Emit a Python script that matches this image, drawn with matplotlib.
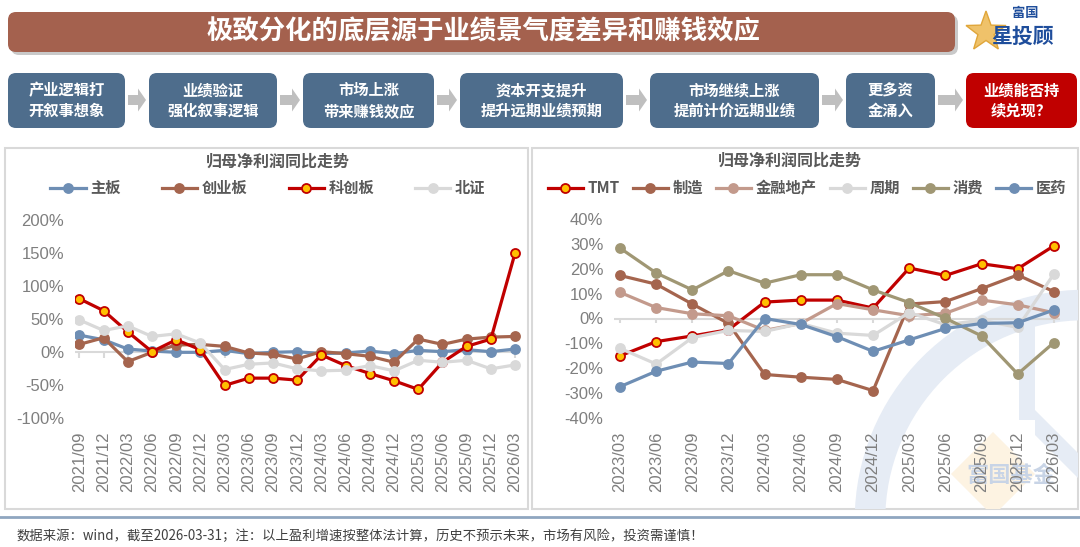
import matplotlib
matplotlib.use("Agg")
import matplotlib.pyplot as plt
import numpy as np
from matplotlib.patches import FancyBboxPatch, Rectangle, Polygon, Arc, FancyArrow
from matplotlib.lines import Line2D

plt.rcParams["font.family"] = ["Noto Sans CJK SC", "DejaVu Sans"]

# ── Texts ─────────────────────────────────────────────────────────────────────
TITLE = "极致分化的底层源于业绩景气度差异和赚钱效应"
CHART_TITLE = "归母净利润同比走势"
FOOTNOTE = ("数据来源：wind，截至2026-03-31；注：以上盈利增速按整体法计算，"
            "历史不预示未来，市场有风险，投资需谨慎！")
FLOW_STEPS = ["产业逻辑打\n开叙事想象", "业绩验证\n强化叙事逻辑", "市场上涨\n带来赚钱效应",
              "资本开支提升\n提升远期业绩预期", "市场继续上涨\n提前计价远期业绩",
              "更多资\n金涌入", "业绩能否持\n续兑现？"]

# ── Left chart: by board (%) ──────────────────────────────────────────────────
BOARD_DATES = ["2021/09", "2021/12", "2022/03", "2022/06", "2022/09", "2022/12",
               "2023/03", "2023/06", "2023/09", "2023/12", "2024/03", "2024/06",
               "2024/09", "2024/12", "2025/03", "2025/06", "2025/09", "2025/12", "2026/03"]
BOARD_NAMES = ["主板", "创业板", "科创板", "北证"]
MAIN_BOARD = [26, 19, 5, 2, 0, 0, 3, -2, 0, 1, -2, -1, 2, -2, 3, 1, 4, 1, 5]
CHINEXT    = [12, 22, -14, 0, 11, 12, 9, -1, -3, -10, 1, -2, -6, -15, 20, 12, 20, 23, 24]
STAR       = [81, 63, 31, 1, 19, 4, -50, -39, -39, -42, -4, -20, -32, -43, -56, -15, 9, 20, 150]
BSE        = [49, 33, 40, 24, 28, 14, -26, -18, -16, -25, -28, -27, -20, -28, -12, -15, -12, -25, -19]

# ── Right chart: by sector (%) ────────────────────────────────────────────────
SECTOR_DATES = ["2023/03", "2023/06", "2023/09", "2023/12", "2024/03", "2024/06",
                "2024/09", "2024/12", "2025/03", "2025/06", "2025/09", "2025/12", "2026/03"]
SECTOR_NAMES = ["TMT", "制造", "金融地产", "周期", "消费", "医药"]
TMT     = [-15, -9.3, -7, -4.5, 6.6, 7.4, 7.4, 4.2, 20.3, 17.3, 22, 20, 29.2]
MANUF   = [17.3, 13.8, 5.8, -2, -22.5, -23.6, -24.5, -29, 5.8, 6.8, 12, 17.5, 10.8]
FIN_RE  = [10.5, 4.4, 1.9, 1.1, -4.8, -2, 6, 3.5, 1.1, 2.1, 7.4, 5.5, 2.3]
CYCLE   = [-12, -18.3, -7.7, -4.8, -5.2, -2, -5.9, -6.8, 2.4, -2.5, -0.7, -3.6, 17.9]
CONSUME = [28.3, 18.3, 11.5, 19.2, 14.2, 17.6, 17.6, 11.5, 6.4, 0.1, -7, -22.3, -9.7]
PHARMA  = [-27.4, -21.2, -17.5, -18.1, 0, -2.4, -7.3, -13.2, -8.6, -4, -2, -1.7, 3.4]

# ── Colours ───────────────────────────────────────────────────────────────────
BLUE, BROWN, RED, GOLD = "#6E8EB4", "#A5654E", "#C00000", "#FFC000"
GREY, PINK, OLIVE = "#D9D9D9", "#C39A8C", "#A09774"
BOX, BANNER, TXT = "#4E6D8C", "#A4614E", "#595959"

W, H = 1080, 547


def fx(x):
    return x / W


def fy(y):
    return 1 - y / H


fig = plt.figure(figsize=(W / 100, H / 100), dpi=100)
fig.patch.set_facecolor("white")

# background canvas in pixel coords
bg = fig.add_axes([0, 0, 1, 1], zorder=0)
bg.set_xlim(0, W)
bg.set_ylim(H, 0)
bg.axis("off")

# title banner
bg.add_patch(FancyBboxPatch((11, 15), 947, 40, boxstyle="round,pad=0,rounding_size=8",
                            fc="#C9C9C9", ec="none"))
bg.add_patch(FancyBboxPatch((8, 12), 947, 40, boxstyle="round,pad=0,rounding_size=8",
                            fc=BANNER, ec="none"))
bg.text(483, 32, TITLE, color="white", fontsize=19, fontweight="bold",
        ha="center", va="center")

# logo
ang = np.linspace(np.pi / 2, np.pi / 2 + 2 * np.pi, 11)[:-1]
rad = np.where(np.arange(10) % 2 == 0, 21, 8.5)
bg.add_patch(Polygon(np.c_[986 + rad * np.cos(ang), 32 - rad * np.sin(ang)],
                     fc="#EFC26A", ec="#E0A63A", lw=1))
bg.text(1025, 13, "富国", color="#1F4E9C", fontsize=9.5, fontweight="bold",
        ha="center", va="center")
bg.text(1023, 36, "星投顾", color="#1F4E9C", fontsize=15, fontweight="bold",
        ha="center", va="center")

# flow boxes
flow_x = [(8, 125), (149, 277), (303, 434), (460, 623), (650, 819), (846, 935), (966, 1077)]
for i, (step, (x0, x1)) in enumerate(zip(FLOW_STEPS, flow_x)):
    fc = RED if i == len(FLOW_STEPS) - 1 else BOX
    bg.add_patch(FancyBboxPatch((x0, 73), x1 - x0, 55, boxstyle="round,pad=0,rounding_size=8",
                                fc=fc, ec="none"))
    bg.text((x0 + x1) / 2, 100.5, step, color="white", fontsize=11, fontweight="bold",
            ha="center", va="center", linespacing=1.35)
    if i > 0:
        g0, g1 = flow_x[i - 1][1] + 3, x0 - 3
        bg.add_patch(FancyArrow(g0, 100, g1 - g0, 0, width=10, head_width=23,
                                head_length=8, length_includes_head=True,
                                fc="#BFBFBF", ec="none"))

# panels
left_panel = Rectangle((5, 148), 523, 361, fc="white", ec="#D9D9D9", lw=1.5)
right_panel = Rectangle((532, 148), 546, 361, fc="white", ec="#D9D9D9", lw=1.5)
bg.add_patch(left_panel)
bg.add_patch(right_panel)

# watermark in right panel
wm = "#E6ECF5"
wm_items = [
    Polygon([(993, 432), (1035, 474), (993, 516), (951, 474)], fc="#FDF3E2", ec="none"),
    Arc((1085, 520), 430, 430, theta1=90, theta2=270, color=wm, lw=22),
    Rectangle((1019, 300), 16, 120, fc=wm, ec="none"),
    Polygon([(1035, 410), (1080, 455), (1080, 480), (1035, 435)], fc=wm, ec="none"),
]
for p in wm_items:
    bg.add_patch(p)
    p.set_clip_path(right_panel)
bg.text(1011, 476, "富国基金", color="#C8D4E6", fontsize=16, fontweight="bold",
        ha="center", va="center")

# footer
bg.axhline(517, color="#8FA6C0", lw=2)
bg.text(17, 536, FOOTNOTE, color="#404040", fontsize=9.6, ha="left", va="center")

# chart titles
fig.text(fx(278), fy(162), CHART_TITLE, color=TXT, fontsize=11.5, fontweight="bold",
         ha="center", va="center")
fig.text(fx(790), fy(161), CHART_TITLE, color=TXT, fontsize=11.5, fontweight="bold",
         ha="center", va="center")


def style_axes(ax, dates, ymin, ymax, step, tick_len):
    n = len(dates)
    ax.set_facecolor("none")
    for s in ax.spines.values():
        s.set_visible(False)
    ax.set_ylim(ymin, ymax)
    ax.set_yticks(np.arange(ymin, ymax + step / 2, step))
    ax.yaxis.set_major_formatter(plt.FuncFormatter(lambda v, _: f"{v:.0f}%"))
    ax.set_xticks(range(n))
    ax.set_xticklabels(dates, rotation=90, va="top", ha="center")
    ax.tick_params(axis="both", length=0, labelcolor="#7F7F7F", labelsize=12)
    ax.tick_params(axis="y", pad=7.5)
    ax.tick_params(axis="x", pad=9.5)
    for lab in ax.get_xticklabels() + ax.get_yticklabels():
        lab.set_family(["Liberation Sans", "DejaVu Sans"])
    ax.axhline(0, color=GREY, lw=1.5, zorder=1)
    ax.vlines(range(n), -tick_len, 0, color=GREY, lw=1.5, zorder=1)


def draw(ax, x, y, color, hollow=False):
    ax.plot(x, y, color=color, lw=2.3, marker="o", ms=6.5,
            mfc=GOLD if hollow else color, mec=color, mew=1.3, zorder=3)


def legend(ax, names, colors, hollows, cx, cy, colspace):
    handles = [Line2D([], [], color=c, lw=2.3, marker="o", ms=6.5,
                      mfc=GOLD if h else c, mec=c, mew=1.3)
               for c, h in zip(colors, hollows)]
    leg = ax.legend(handles, names, loc="center", bbox_to_anchor=(fx(cx), fy(cy)),
                    bbox_transform=fig.transFigure, ncol=len(names), frameon=False,
                    handlelength=2.3, handletextpad=0.3, columnspacing=colspace,
                    prop={"size": 11, "weight": "bold"})
    for t in leg.get_texts():
        t.set_color(TXT)


# ── left chart ────────────────────────────────────────────────────────────────
ax1 = fig.add_axes([fx(74.5), fy(418.5), (519.9 - 74.5) / W, (418.5 - 220) / H], zorder=2)
style_axes(ax1, BOARD_DATES, -100, 200, 50, 8)
xb = np.arange(len(BOARD_DATES))
board_series = [MAIN_BOARD, CHINEXT, STAR, BSE]
board_colors = [BLUE, BROWN, RED, GREY]
board_hollow = [False, False, True, False]
for ys, c, h in zip(board_series, board_colors, board_hollow):
    draw(ax1, xb, ys, c, h)
ax1.set_xlim(-0.2, len(BOARD_DATES) - 1 + 0.2)
legend(ax1, BOARD_NAMES, board_colors, board_hollow, 268, 188, 2.7)

# ── right chart ───────────────────────────────────────────────────────────────
ax2 = fig.add_axes([fx(613.9), fy(418), (1060 - 613.9) / W, (418 - 219) / H], zorder=2)
style_axes(ax2, SECTOR_DATES, -40, 40, 10, 2)
xs = np.arange(len(SECTOR_DATES))
sector_series = [TMT, MANUF, FIN_RE, CYCLE, CONSUME, PHARMA]
sector_colors = [RED, BROWN, PINK, GREY, OLIVE, BLUE]
sector_hollow = [True, False, False, False, False, False]
for ys, c, h in zip(sector_series, sector_colors, sector_hollow):
    draw(ax2, xs, ys, c, h)
ax2.set_xlim(-0.17, len(SECTOR_DATES) - 1 + 0.17)
legend(ax2, SECTOR_NAMES, sector_colors, sector_hollow, 807, 188, 0.85)

fig.savefig("out.png", dpi=100)
